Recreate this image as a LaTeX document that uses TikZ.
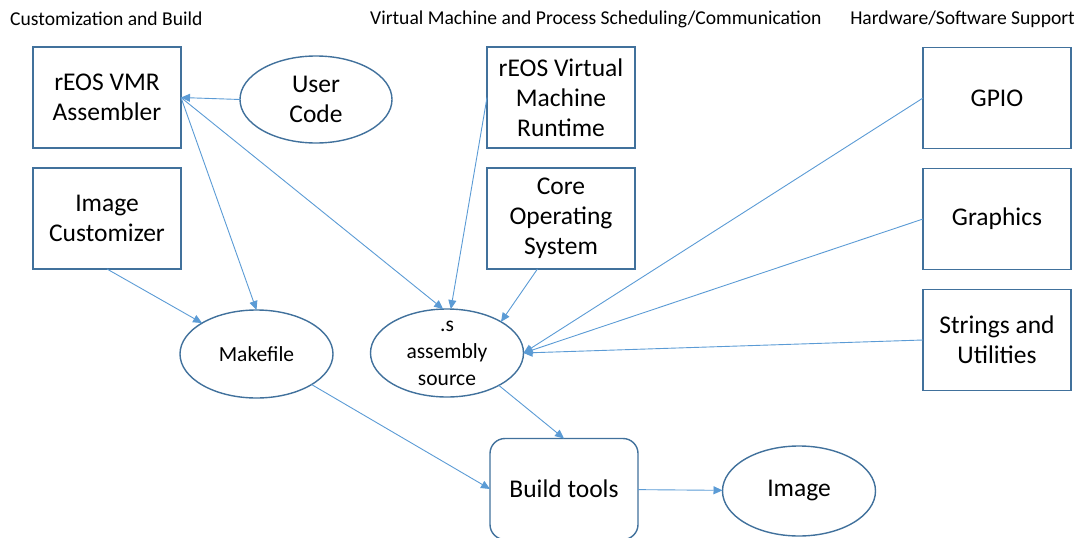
\documentclass[tikz,border=0pt]{standalone}
\usepackage{fontspec}
\setmainfont{Carlito}
\usetikzlibrary{positioning,shapes,arrows.meta}

\definecolor{boxblue}{HTML}{41719C}
\definecolor{lineblue}{HTML}{5B9BD5}

\begin{document}
\begin{tikzpicture}[x=1pt, y=-1pt,
        box/.style={draw=boxblue, line width=1.4pt, fill=white, shape=rectangle, minimum width=148pt, minimum height=101pt, inner sep=0pt, outer sep=0pt, align=center, font=\fontsize{25.5}{30}\selectfont},
        oval/.style={draw=boxblue, line width=1.4pt, fill=white, shape=ellipse, minimum width=153pt, minimum height=88pt, inner sep=0pt, outer sep=0pt, align=center, font=\fontsize{25.5}{30}\selectfont},
        small/.style={font=\fontsize{21.5}{27}\selectfont},
        heading/.style={anchor=west, inner sep=0pt, font=\fontsize{19.6}{23}\selectfont},
        conn/.style={color=lineblue, line width=0.9pt},
        headed/.style={-{Triangle[length=9pt,width=8pt]}}]
        \useasboundingbox (0,0) rectangle (1077,538);

        % column titles
        \node[heading] (h1) at (10,19) {Customization and Build};
        \node[heading] (h2) at (370,19) {Virtual Machine and Process Scheduling/Communication};
        \node[heading, anchor=east] (h3) at (1075,19) {Hardware/Software Support};

        % left column
        \node[box] (asm) at (107,97.5) {rEOS VMR\\Assembler};
        \node[box] (cust) [below=20pt of asm] {Image\\Customizer};
        \node[oval, minimum width=152pt, minimum height=87pt] (usr) at (316,99.5) {User\\Code};
        \node[oval, small] (mk) at (256.5,354) {Makefile};

        % middle column
        \node[box] (rt) at (561,97.5) {rEOS Virtual\\Machine\\Runtime};
        \node[box] (os) [below=20pt of rt] {Core\\Operating\\System};
        \node[oval, small, inner ysep=-7pt] (src) at (447,353) {.s\\assembly\\source};
        \node[box, rounded corners=15pt] (bt) at (564,489) {Build tools};
        \node[oval, minimum height=90pt] (im) at (799,491) {Image};

        % right column
        \node[box] (gpio) at (997,98) {GPIO};
        \node[box] (gfx) [below=20pt of gpio] {Graphics};
        \node[box] (str) [below=20pt of gfx] {Strings and\\Utilities};

        \draw[conn] (usr.west) edge[headed] (asm.east)
            (asm.east) edge[headed] (src.95) (asm.east) edge[headed] (mk.north)
            (cust.south) edge[headed] (mk)
            (rt.west) edge[headed] (src.85) (os.-115) edge[headed] (src.30)
            (gpio.west) edge[headed] (src.east) (gfx.west) edge[headed] (src.east) (str.west) edge[headed] (src.east)
            (src.-32) edge[headed] (bt.north) (mk.-29) edge[headed] (bt.west)
            (bt) edge[headed] (im);
\end{tikzpicture}
\end{document}
